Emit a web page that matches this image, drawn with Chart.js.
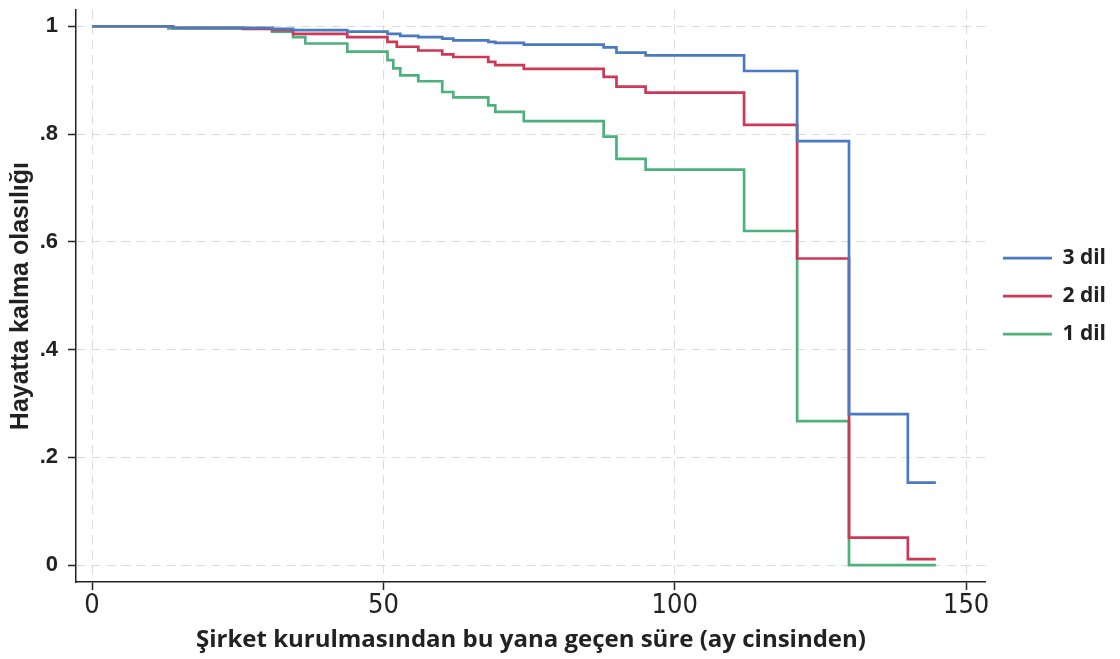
<!DOCTYPE html>
<html>
<head>
<meta charset="utf-8">
<script src="https://cdn.jsdelivr.net/npm/chart.js@4.4.0/dist/chart.umd.min.js"></script>
<style>
  html, body { margin: 0; padding: 0; background: #fff; }
  #wrap { width: 1120px; height: 659px; }
</style>
</head>
<body>
<div id="wrap"><canvas id="myChart" width="1120" height="659"></canvas></div>
<script>
// Kaplan-Meier adımları: süre (ay) ve hayatta kalma olasılığı
const zaman3 = [0, 13.9, 30.9, 34.5, 43.8, 50.7, 52.9, 56.0, 60.1, 62.0, 68.0, 69.2, 74.1, 87.8, 90.0, 95.0, 111.9, 121.0, 129.9, 140.0, 144.8];
const surv3  = [1, 0.997, 0.995, 0.993, 0.990, 0.986, 0.982, 0.980, 0.977, 0.974, 0.971, 0.969, 0.966, 0.961, 0.951, 0.946, 0.917, 0.787, 0.280, 0.153, 0.153];

const zaman2 = [0, 13.9, 25.9, 30.9, 34.5, 43.8, 50.7, 52.3, 56.0, 60.1, 62.0, 68.0, 69.2, 74.1, 87.8, 90.0, 95.0, 111.9, 121.0, 129.9, 140.0, 144.8];
const surv2  = [1, 0.997, 0.995, 0.993, 0.986, 0.980, 0.971, 0.962, 0.955, 0.948, 0.943, 0.934, 0.928, 0.921, 0.906, 0.888, 0.877, 0.817, 0.569, 0.051, 0.011, 0.011];

const zaman1 = [0, 13.1, 30.9, 34.5, 36.6, 43.8, 50.7, 51.7, 52.9, 56.0, 60.1, 62.0, 68.0, 69.2, 74.1, 87.8, 90.0, 95.0, 111.9, 121.0, 129.9, 144.8];
const surv1  = [1, 0.996, 0.990, 0.980, 0.968, 0.953, 0.937, 0.922, 0.909, 0.898, 0.878, 0.868, 0.853, 0.841, 0.824, 0.795, 0.754, 0.734, 0.620, 0.267, 0.0, 0.0];

const xTicks = [0, 50, 100, 150];
const yTicks = [0, 0.2, 0.4, 0.6, 0.8, 1];
const yTickLabels = ['0', '.2', '.4', '.6', '.8', '1'];

function noktalar(zaman, surv) {
    return zaman.map((t, i) => ({x: t, y: surv[i]}));
}

const gridStyle = {
    color: 'rgba(210, 210, 210, 0.8)',
    lineWidth: 1,
    tickColor: '#222',
    tickWidth: 1.5,
    tickLength: 8,
    tickBorderDash: []
};

const ctx = document.getElementById('myChart').getContext('2d');
const myChart = new Chart(ctx, {
    type: 'line',
    data: {
        datasets: [{
            label: '3 dil',
            data: noktalar(zaman3, surv3),
            borderColor: 'rgb(74, 122, 192)',
            backgroundColor: 'rgb(74, 122, 192)',
            borderWidth: 2.7,
            stepped: true,
            pointRadius: 0
        }, {
            label: '2 dil',
            data: noktalar(zaman2, surv2),
            borderColor: 'rgb(206, 56, 86)',
            backgroundColor: 'rgb(206, 56, 86)',
            borderWidth: 2.7,
            stepped: true,
            pointRadius: 0
        }, {
            label: '1 dil',
            data: noktalar(zaman1, surv1),
            borderColor: 'rgb(76, 178, 124)',
            backgroundColor: 'rgb(76, 178, 124)',
            borderWidth: 2.7,
            stepped: true,
            pointRadius: 0
        }]
    },
    options: {
        responsive: false,
        animation: false,
        layout: { padding: { top: 0, right: 4 } },
        plugins: {
            tooltip: { enabled: false },
            legend: {
                position: 'right',
                fullSize: false,
                labels: {
                    usePointStyle: true,
                    pointStyle: 'line',
                    pointStyleWidth: 49,
                    padding: 17,
                    color: '#222',
                    font: { family: 'Open Sans', size: 21, weight: 'bold' }
                }
            }
        },
        scales: {
            x: {
                type: 'linear',
                min: -2.75,
                max: 153.4,
                afterBuildTicks: (scale) => { scale.ticks = xTicks.map(v => ({value: v})); },
                afterFit: (scale) => { scale.height = 77; },
                grid: gridStyle,
                border: { color: '#222', width: 1.5, dash: [9, 6] },
                ticks: {
                    color: '#222',
                    padding: 0,
                    maxRotation: 0,
                    font: { family: "'DejaVu Sans Condensed', Roboto, sans-serif", size: 27 },
                    callback: (v) => String(v)
                },
                title: {
                    display: true,
                    text: 'Şirket kurulmasından bu yana geçen süre (ay cinsinden)',
                    color: '#222',
                    font: { family: 'Open Sans', size: 24, weight: 'bold' },
                    padding: { bottom: 4 }
                }
            },
            y: {
                type: 'linear',
                min: -0.0315,
                max: 1.03,
                afterBuildTicks: (scale) => { scale.ticks = yTicks.map(v => ({value: v})); },
                afterFit: (scale) => { scale.width = 76; },
                grid: gridStyle,
                border: { color: '#222', width: 1.5, dash: [9, 6] },
                ticks: {
                    color: '#222',
                    padding: 10,
                    font: { family: 'Liberation Sans', size: 22, weight: 'bold', lineHeight: 0.01 },
                    callback: (v) => yTickLabels[yTicks.indexOf(v)]
                },
                title: {
                    display: true,
                    text: 'Hayatta kalma olasılığı',
                    color: '#222',
                    font: { family: 'Liberation Sans', size: 25, weight: 'bold' },
                    padding: { top: 6 }
                }
            }
        }
    }
});
</script>
</body>
</html>
